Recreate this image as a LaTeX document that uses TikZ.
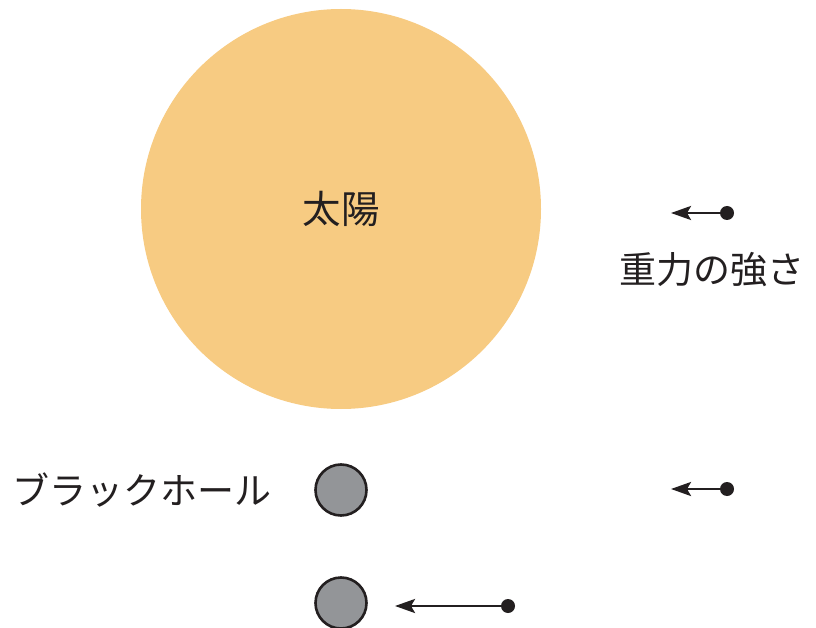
\documentclass[tikz,border=0pt]{standalone}
\usepackage{fontspec}
\newfontfamily\jp{Noto Sans CJK JP}
\usetikzlibrary{arrows.meta}
\definecolor{sun}{HTML}{F7CB82}
\definecolor{hole}{HTML}{939598}
\definecolor{ink}{HTML}{231F20}
\tikzset{
  bh/.style={circle,draw=ink,line width=2.6pt,fill=hole,minimum size=51pt,inner sep=0pt},
  dotend/.style={circle,fill=ink,minimum size=14pt,inner sep=0pt},
  force/.style={draw=ink,line width=2.6pt,-{Stealth[length=20pt,width=14pt,inset=4pt]}},
  lbl/.style={font=\jp\fontsize{37}{44}\selectfont,text=ink,inner sep=0pt}
}
\begin{document}
\begin{tikzpicture}[x=1pt,y=-1pt]
\useasboundingbox (0,0) rectangle (816,628);
\node[circle,fill=sun,minimum size=400pt,inner sep=0pt] (sun) at (341,209) {};
\node[lbl,font=\jp\fontsize{38.5}{44}\selectfont] (sunlbl) at (341,209) {太陽};
\node[bh] (bh1) at (341,490) {};
\node[bh] (bh2) at (341,603) {};
\node[lbl,anchor=east] (bhlbl) at (272,490) {ブラックホール};
\node[dotend] (d1) at (727,213) {};
\node[dotend] (d2) at (727,489) {};
\node[dotend] (d3) at (508,606) {};
\coordinate (t1) at (671,213);
\coordinate (t2) at (671,489);
\coordinate (t3) at (395,606);
\draw[force] (d1.center) -- (t1);
\draw[force] (d2.center) -- (t2);
\draw[force] (d3.center) -- (t3);
\node[lbl] (glbl) at (712,270) {重力の強さ};
\end{tikzpicture}
\end{document}
